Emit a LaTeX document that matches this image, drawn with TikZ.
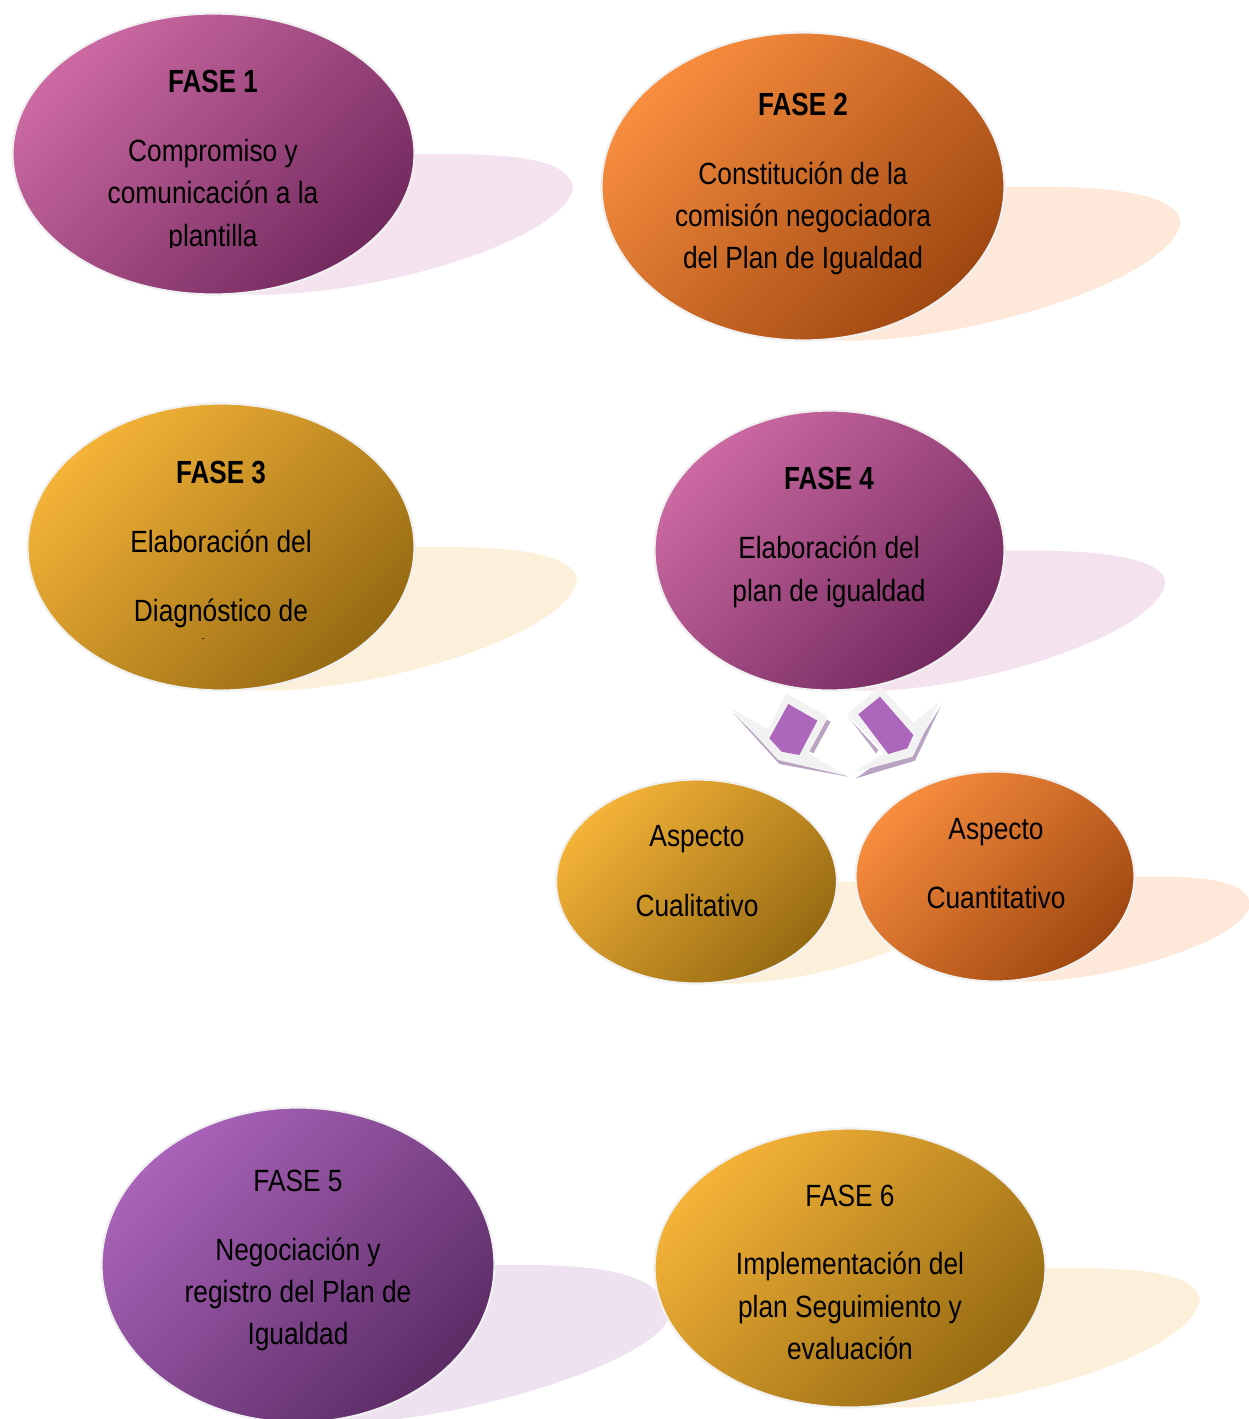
\documentclass[tikz,border=0pt]{standalone}
\usepackage{fontspec}
\setmainfont{Liberation Sans}
\newfontfamily\lblfont[FakeStretch=0.857]{Liberation Sans}
\newfontfamily\headfont[FakeStretch=0.815]{Liberation Sans Bold}
\usetikzlibrary{shapes.geometric}
\definecolor{pinkL}{HTML}{CC69A2}\definecolor{pinkD}{HTML}{732A5F}\definecolor{pinkS}{HTML}{F4E3EE}
\definecolor{oranL}{HTML}{F88D3E}\definecolor{oranD}{HTML}{A04811}\definecolor{oranS}{HTML}{FDE8D9}
\definecolor{yellL}{HTML}{F4B338}\definecolor{yellD}{HTML}{966A12}\definecolor{yellS}{HTML}{FDF0DA}
\definecolor{purpL}{HTML}{A963B9}\definecolor{purpD}{HTML}{5C2C66}\definecolor{purpS}{HTML}{EEE1F0}
\definecolor{arrowG}{HTML}{F2F2F2}\definecolor{arrowS}{HTML}{B9A2C2}\definecolor{arrowP}{HTML}{AC66BC}
\tikzset{
  bubble/.style={ellipse,draw=black!6,line width=2.2pt,inner sep=0pt},
  pinkb/.style={bubble,top color=pinkL,bottom color=pinkD,shading angle=45},
  oranb/.style={bubble,top color=oranL,bottom color=oranD,shading angle=45},
  yellb/.style={bubble,top color=yellL,bottom color=yellD,shading angle=45},
  purpb/.style={bubble,top color=purpL,bottom color=purpD,shading angle=45},
  lbl/.style={anchor=base,inner sep=0pt,font=\lblfont\fontsize{30.7}{36}\selectfont,text=black},
  head/.style={anchor=base,inner sep=0pt,font=\headfont\fontsize{32}{36}\selectfont,text=black},
}
% name, cx, cy, rx, ry, style, shadow colour, tip x, tip y
\newcommand{\bubbleshape}[9]{%
  \begin{scope}[shift={(#2,#3)},x=#4pt,y=-#5pt]
    \fill[#7] (-.47,.875) .. controls (-.2,1.01) and (.1,1.0) .. (.3,1.0)
      .. controls (.9,.97) and (#8-.05,.6) .. (#8,#9)
      .. controls (#8-.02,.04) and (1.5,0) .. (1.15,0) -- (0,0) -- cycle;
  \end{scope}
  \node[#6,minimum width=2*#4 pt,minimum height=2*#5 pt] (#1) at (#2,#3) {};
}
\begin{document}
\begin{tikzpicture}[x=1pt,y=-1pt]
\useasboundingbox (0,0) rectangle (1248,1419);
\bubbleshape{f1}{213.5}{154}{201}{140.5}{pinkb}{pinkS}{1.79}{.24}
\bubbleshape{f2}{803}{186.5}{201.5}{154}{oranb}{oranS}{1.875}{.23}
\bubbleshape{f3}{221}{547}{193.5}{143.5}{yellb}{yellS}{1.84}{.23}
\bubbleshape{f4}{829.5}{550.5}{175}{140}{pinkb}{pinkS}{1.92}{.225}
\bubbleshape{a1}{696.5}{881.5}{140.5}{102}{yellb}{yellS}{1.8}{.25}
\bubbleshape{a2}{995}{876.5}{139.5}{105}{oranb}{oranS}{1.83}{.27}
\bubbleshape{f5}{298}{1265}{196.5}{157.5}{purpb}{purpS}{1.89}{.32}
\bubbleshape{f6}{850}{1268}{195.5}{139.5}{yellb}{yellS}{1.79}{.23}
% FASE 1
\node[head] (t1a) at (213,92) {FASE 1};
\node[lbl] (t1b) at (213,161) {Compromiso y};
\node[lbl] (t1c) at (213,203) {comunicación a la};
\begin{scope}
\clip (100,200) rectangle (330,247);
\node[lbl] (t1d) at (213,246) {plantilla};
\end{scope}
% FASE 2
\node[head] (t2a) at (803,115) {FASE 2};
\node[lbl] (t2b) at (803,184) {Constitución de la};
\node[lbl] (t2c) at (803,226) {comisión negociadora};
\node[lbl] (t2d) at (803,268) {del Plan de Igualdad};
% FASE 3
\node[head] (t3a) at (221,483) {FASE 3};
\node[lbl] (t3b) at (221,552) {Elaboración del};
\node[lbl] (t3c) at (221,621) {Diagnóstico de};
\node[anchor=center,inner sep=0pt,font=\fontsize{9}{10}\selectfont] (t3d) at (203,640) {-};
% FASE 4
\node[head] (t4a) at (829,489) {FASE 4};
\node[lbl] (t4b) at (829,558) {Elaboración del};
\node[lbl] (t4c) at (829,601) {plan de igualdad};
% Aspects
\node[lbl] (ta1) at (697,846) {Aspecto};
\node[lbl] (ta2) at (697,916) {Cualitativo};
\node[lbl] (tb1) at (996,839) {Aspecto};
\node[lbl] (tb2) at (996,908) {Cuantitativo};
% FASE 5
\node[lbl] (t5a) at (298,1191.5) {FASE 5};
\node[lbl] (t5b) at (298,1260.5) {Negociación y};
\node[lbl] (t5c) at (298,1302.5) {registro del Plan de};
\node[lbl] (t5d) at (298,1344.5) {Igualdad};
% FASE 6
\node[lbl] (t6a) at (850,1206.5) {FASE 6};
\node[lbl] (t6b) at (850,1274.5) {Implementación del};
\node[lbl] (t6c) at (850,1317.5) {plan Seguimiento y};
\node[lbl] (t6d) at (850,1359.5) {evaluación};
% folded block arrows (coordinates as read from a 3x crop at 700,670)
\begin{scope}[shift={(700,670)},x=0.3333pt,y=-0.3333pt]
  % left arrow
  \fill[arrowS] (100,130) -- (238,282) -- (443,320) -- (345,272) -- (325,250) -- (235,262) -- cycle;
  \fill[arrowS] (372,146) -- (392,155) -- (340,250) -- (322,240) -- cycle;
  \fill[arrowG] (92,115) -- (205,178) -- (258,70) -- (385,140) -- (325,250) -- (440,318) -- (235,270) -- cycle;
  \fill[arrowP] (265,102) -- (352,152) -- (298,255) -- (245,245) -- (208,205) -- cycle;
  % right arrow
  \fill[arrowS] (450,148) -- (535,240) -- (528,250) -- (445,140) -- cycle;
  \fill[arrowS] (722,110) -- (645,272) -- (468,325) -- (510,295) -- (630,255) -- cycle;
  \fill[arrowG] (443,132) -- (540,47) -- (640,158) -- (718,95) -- (638,260) -- (460,308) -- (552,250) -- cycle;
  \fill[arrowP] (540,80) -- (640,195) -- (622,235) -- (565,252) -- (475,133) -- cycle;
\end{scope}
\end{tikzpicture}
\end{document}
